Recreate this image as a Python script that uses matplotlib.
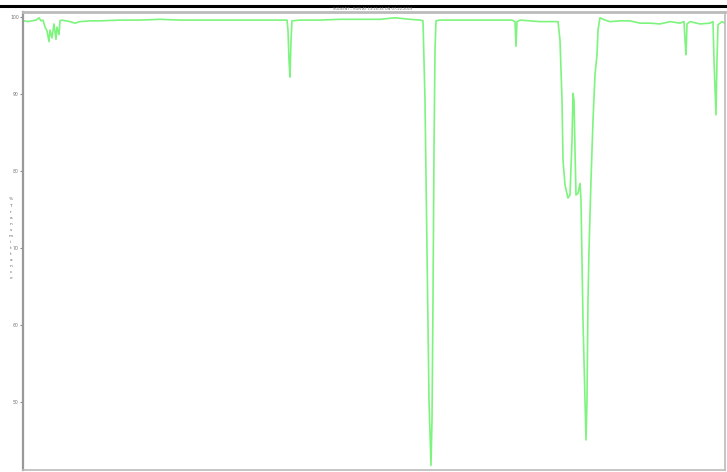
import matplotlib
matplotlib.use("Agg")
import matplotlib.pyplot as plt
from matplotlib.lines import Line2D

# spectrum (wavenumber, %T)
wavenumber = [4000, 3980, 3960, 3940, 3925, 3915, 3905, 3895, 3885, 3875,
              3870, 3860, 3850, 3840, 3835, 3825, 3820, 3810, 3790, 3770,
              3745, 3720, 3670, 3620, 3520, 3420, 3320, 3220, 3120, 3020,
              2920, 2820, 2720, 2685, 2680, 2675, 2670, 2665, 2660, 2620,
              2520, 2420, 2320, 2220, 2145, 2070, 2020, 2005, 1995, 1985,
              1975, 1965, 1960, 1955, 1950, 1945, 1940, 1920, 1820, 1720,
              1620, 1560, 1545, 1540, 1535, 1520, 1470, 1420, 1370, 1330,
              1320, 1310, 1305, 1295, 1280, 1270, 1260, 1255, 1250, 1245,
              1240, 1230, 1220, 1215, 1205, 1190, 1185, 1180, 1175, 1165,
              1155, 1145, 1140, 1135, 1130, 1120, 1095, 1070, 1020, 970,
              920, 870, 820, 770, 720, 700, 695, 690, 685, 670,
              620, 570, 555, 550, 540, 535, 530, 510, 495]
transmittance = [99.5, 99.4, 99.5, 99.6, 99.9, 99.5, 99.6, 98.7, 98.2, 96.8,
                 98.3, 97.3, 99.1, 97.1, 98.7, 97.7, 99.5, 99.6, 99.5, 99.4,
                 99.2, 99.4, 99.5, 99.5, 99.6, 99.6, 99.7, 99.6, 99.6, 99.6,
                 99.6, 99.6, 99.6, 99.6, 98.3, 94.4, 92.2, 97.0, 99.5, 99.6,
                 99.6, 99.7, 99.7, 99.7, 99.9, 99.7, 99.6, 99.5, 89.2, 69.7,
                 50.3, 41.8, 47.7, 63.2, 82.7, 95.7, 99.5, 99.6, 99.6, 99.6,
                 99.6, 99.6, 99.4, 96.2, 99.4, 99.6, 99.5, 99.4, 99.4, 99.4,
                 97.0, 89.2, 81.4, 78.2, 76.5, 76.9, 84.0, 90.1, 89.2, 82.7,
                 76.9, 77.1, 78.4, 76.2, 60.6, 45.1, 50.3, 63.2, 69.7, 78.8,
                 86.6, 92.5, 93.8, 95.1, 98.3, 99.9, 99.6, 99.4, 99.5, 99.5,
                 99.2, 99.2, 99.1, 99.4, 99.2, 99.4, 97.0, 95.1, 99.1, 99.4,
                 99.1, 99.2, 99.4, 94.4, 87.3, 94.4, 99.0, 99.4, 99.2]

yticks = [100, 90, 80, 70, 60, 50]
title = "SOLVENT - RUN AT 13:26:34 ON 07-22-2019"
ylabel = "% Transmittance"

fig = plt.figure(figsize=(7.27, 4.72), dpi=100)
ax = fig.add_axes([23 / 727, 2 / 472, 702 / 727, 458 / 472])

ax.plot(wavenumber, transmittance, color="#5cf25c", lw=1.2, alpha=0.8)

ax.set_xlim(4005, 495)
ax.set_ylim(41.2, 100.65)
ax.set_xticks([])
ax.set_yticks(yticks)
ax.set_yticklabels([str(t) for t in yticks], fontsize=3.3, color="#777777")
ax.tick_params(axis="y", length=2, width=0.8, color="#888888", pad=1)

for s in ax.spines.values():
    s.set_color("#bbbbbb")
    s.set_linewidth(1.2)
ax.spines["left"].set_color("#999999")
ax.spines["left"].set_linewidth(1.6)
ax.spines["top"].set_linewidth(2)

# stacked y label like the old instrument printout
ax.text(-0.0175, 0.595, "\n".join(ylabel.replace(" ", "")), transform=ax.transAxes,
        fontsize=3.2, color="#666666", ha="center", va="top", linespacing=1.68)

# black rule at the very top and the run title
fig.add_artist(Line2D([0, 1], [1 - 6 / 472, 1 - 6 / 472], color="black", lw=2.2))
fig.text(373 / 727, 1 - 9.5 / 472, title, fontsize=2.6, color="#777777",
         ha="center", va="center")

fig.savefig("out.png", dpi=100)
